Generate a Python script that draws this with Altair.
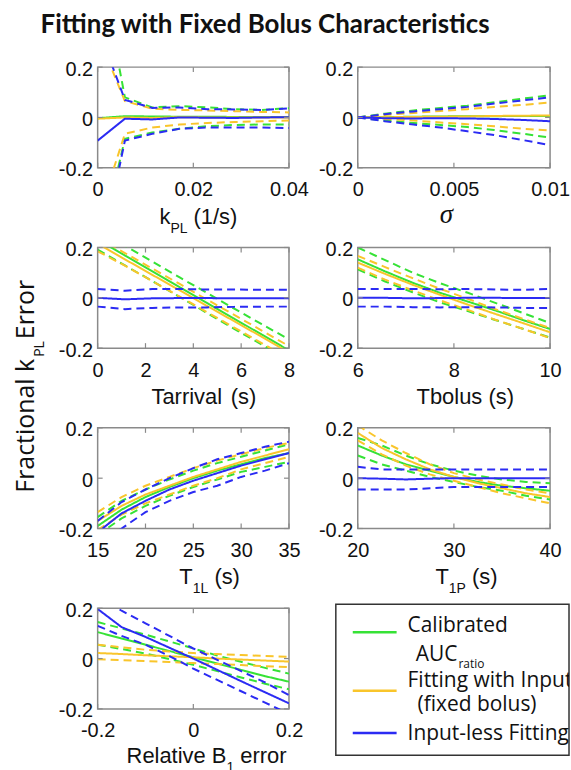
import altair as alt
import pandas as pd

SERIES = ["cal", "fit", "inl"]
SERIES_COLORS = ["#36e236", "#f9c52b", "#2b2bf3"]
LEGEND_LINES = ["Calibrated", "AUC", "ratio", "Fitting with Input", "(fixed bolus)", "Input-less Fitting"]
Y_TICKS = [-0.2, 0, 0.2]

# ---- panel 1: kPL
kpl_x = [0, 0.0057, 0.0114, 0.0171, 0.0229, 0.0286, 0.0343, 0.04]
kpl_cal = [-0.003, 0.005, 0.004, 0.003, 0.003, 0.002, 0.002, 0.002]
kpl_cal_hi = [0.65, 0.08, 0.04, 0.045, 0.04, 0.033, 0.03, 0.037]
kpl_cal_lo = [-0.55, -0.085, -0.06, -0.045, -0.035, -0.03, -0.028, -0.028]
kpl_fit = [-0.005, 0.0, -0.002, 0.001, 0.0, 0.0, 0.0, 0.0]
kpl_fit_hi = [0.33, 0.065, 0.035, 0.03, 0.028, 0.025, 0.022, 0.02]
kpl_fit_lo = [-0.40, -0.065, -0.04, -0.028, -0.022, -0.018, -0.015, -0.012]
kpl_inl = [-0.092, -0.005, -0.008, 0.0, -0.001, -0.002, 0.0, 0.001]
kpl_inl_hi = [0.36, 0.07, 0.038, 0.04, 0.033, 0.032, 0.03, 0.036]
kpl_inl_lo = [-0.61, -0.092, -0.065, -0.045, -0.04, -0.04, -0.04, -0.042]

# ---- panel 2: sigma
sig_x = [0, 0.0014, 0.0029, 0.0043, 0.0057, 0.0071, 0.0086, 0.01]
sig_cal = [0, 0.001, 0.003, 0.004, 0.005, 0.005, 0.006, 0.006]
sig_cal_hi = [0, 0.015, 0.028, 0.038, 0.047, 0.06, 0.075, 0.088]
sig_cal_lo = [0, -0.012, -0.022, -0.03, -0.038, -0.05, -0.065, -0.08]
sig_fit = [0, 0.001, 0.002, 0.003, 0.004, 0.006, 0.007, 0.008]
sig_fit_hi = [0, 0.01, 0.018, 0.026, 0.033, 0.042, 0.05, 0.06]
sig_fit_lo = [0, -0.006, -0.012, -0.02, -0.027, -0.035, -0.045, -0.052]
sig_inl = [0, -0.003, -0.004, -0.003, -0.004, -0.006, -0.01, -0.015]
sig_inl_hi = [0, 0.013, 0.024, 0.033, 0.042, 0.055, 0.068, 0.08]
sig_inl_lo = [0, -0.015, -0.028, -0.04, -0.055, -0.07, -0.09, -0.11]

# ---- panel 3: Tarrival
tar_x = [0, 1.14, 2.29, 3.43, 4.57, 5.71, 6.86, 8]
tar_cal = [0.231, 0.168, 0.105, 0.042, -0.02, -0.083, -0.146, -0.209]
tar_cal_hi = [0.27, 0.207, 0.144, 0.081, 0.02, -0.043, -0.105, -0.165]
tar_cal_lo = [0.192, 0.129, 0.066, 0.003, -0.06, -0.123, -0.186, -0.249]
tar_fit = [0.215, 0.153, 0.091, 0.03, -0.032, -0.093, -0.155, -0.217]
tar_fit_hi = [0.24, 0.178, 0.116, 0.055, -0.007, -0.068, -0.13, -0.192]
tar_fit_lo = [0.185, 0.128, 0.066, 0.005, -0.057, -0.118, -0.18, -0.242]
tar_inl = [0.0, -0.006, -0.002, -0.001, -0.001, -0.002, -0.002, -0.002]
tar_inl_hi = [0.035, 0.028, 0.035, 0.035, 0.033, 0.033, 0.032, 0.032]
tar_inl_lo = [-0.035, -0.045, -0.04, -0.038, -0.038, -0.036, -0.035, -0.035]

# ---- panel 4: Tbolus
tbo_x = [6, 6.57, 7.14, 7.71, 8.29, 8.86, 9.43, 10]
tbo_cal = [0.153, 0.105, 0.06, 0.02, -0.015, -0.05, -0.088, -0.124]
tbo_cal_hi = [0.2, 0.15, 0.1, 0.058, 0.02, -0.02, -0.06, -0.1]
tbo_cal_lo = [0.113, 0.065, 0.022, -0.018, -0.053, -0.088, -0.123, -0.158]
tbo_fit = [0.14, 0.095, 0.052, 0.012, -0.027, -0.064, -0.1, -0.137]
tbo_fit_hi = [0.167, 0.122, 0.078, 0.036, -0.004, -0.045, -0.083, -0.12]
tbo_fit_lo = [0.12, 0.072, 0.03, -0.01, -0.048, -0.087, -0.123, -0.16]
tbo_inl = [0.0, 0.0, -0.002, -0.001, 0.0, 0.0, -0.001, -0.001]
tbo_inl_hi = [0.035, 0.035, 0.035, 0.034, 0.035, 0.033, 0.032, 0.035]
tbo_inl_lo = [-0.035, -0.035, -0.037, -0.038, -0.037, -0.038, -0.04, -0.04]

# ---- panel 5: T1L
t1l_x = [15, 17.5, 20, 22.5, 25, 27.5, 30, 32.5, 35]
t1l_cal = [-0.19, -0.125, -0.075, -0.035, 0.0, 0.03, 0.055, 0.08, 0.1]
t1l_cal_hi = [-0.155, -0.09, -0.045, -0.005, 0.03, 0.06, 0.085, 0.11, 0.135]
t1l_cal_lo = [-0.225, -0.16, -0.11, -0.07, -0.035, -0.005, 0.025, 0.045, 0.065]
t1l_fit = [-0.17, -0.11, -0.065, -0.03, 0.005, 0.035, 0.065, 0.09, 0.115]
t1l_fit_hi = [-0.135, -0.075, -0.03, 0.005, 0.04, 0.07, 0.095, 0.12, 0.14]
t1l_fit_lo = [-0.205, -0.145, -0.1, -0.065, -0.03, 0.0, 0.035, 0.06, 0.085]
t1l_inl = [-0.215, -0.14, -0.09, -0.045, -0.01, 0.02, 0.05, 0.075, 0.1]
t1l_inl_hi = [-0.17, -0.095, -0.045, 0.0, 0.04, 0.075, 0.1, 0.125, 0.145]
t1l_inl_lo = [-0.26, -0.2, -0.135, -0.09, -0.055, -0.03, 0.005, 0.03, 0.06]

# ---- panel 6: T1P
t1p_x = [20, 22.5, 25, 27.5, 30, 32.5, 35, 37.5, 40]
t1p_cal = [0.13, 0.09, 0.055, 0.03, 0.005, -0.015, -0.03, -0.04, -0.05]
t1p_cal_hi = [0.16, 0.13, 0.09, 0.055, 0.03, 0.01, -0.005, -0.015, -0.02]
t1p_cal_lo = [0.09, 0.055, 0.03, 0.005, -0.015, -0.035, -0.05, -0.07, -0.085]
t1p_fit = [0.18, 0.12, 0.075, 0.035, 0.005, -0.02, -0.04, -0.06, -0.075]
t1p_fit_hi = [0.21, 0.15, 0.1, 0.055, 0.02, -0.005, -0.025, -0.045, -0.06]
t1p_fit_lo = [0.15, 0.095, 0.05, 0.015, -0.01, -0.035, -0.06, -0.08, -0.1]
t1p_inl = [0.0, -0.002, -0.005, -0.002, 0.0, 0.0, 0.0, 0.0, 0.0]
t1p_inl_hi = [0.045, 0.035, 0.035, 0.035, 0.035, 0.035, 0.035, 0.035, 0.035]
t1p_inl_lo = [-0.045, -0.045, -0.045, -0.04, -0.035, -0.035, -0.035, -0.035, -0.035]

# ---- panel 7: relative B1 error
b1_x = [-0.2, -0.15, -0.1, -0.05, 0, 0.05, 0.1, 0.15, 0.2]
b1_cal = [0.105, 0.08, 0.055, 0.03, 0.005, -0.02, -0.045, -0.07, -0.092]
b1_cal_hi = [0.145, 0.12, 0.095, 0.068, 0.04, 0.012, -0.013, -0.037, -0.06]
b1_cal_lo = [0.055, 0.038, 0.02, -0.002, -0.025, -0.05, -0.075, -0.1, -0.122]
b1_fit = [0.022, 0.018, 0.013, 0.009, 0.005, 0.0, -0.004, -0.008, -0.012]
b1_fit_hi = [0.055, 0.045, 0.035, 0.028, 0.022, 0.018, 0.014, 0.01, 0.007]
b1_fit_lo = [-0.003, -0.006, -0.01, -0.014, -0.018, -0.022, -0.026, -0.03, -0.034]
b1_inl = [0.197, 0.125, 0.086, 0.043, 0.0, -0.045, -0.09, -0.134, -0.178]
b1_inl_hi = [0.25, 0.19, 0.14, 0.09, 0.04, -0.005, -0.05, -0.095, -0.145]
b1_inl_lo = [0.13, 0.09, 0.055, 0.01, -0.04, -0.085, -0.13, -0.175, -0.22]

FRAME = "#8a8a8a"
H = 101
AXIS_FONT = "Liberation Sans"
HUM_FONT = "Open Sans"

# Arial / Liberation Sans advance widths (per 1000 em)
ADV = {' ': 278, '(': 333, ')': 333, '/': 278, '1': 556, 'B': 667, 'L': 556, 'P': 667,
       'R': 722, 'T': 611, 'a': 556, 'b': 556, 'e': 556, 'i': 222, 'k': 500, 'l': 222,
       'o': 556, 'r': 333, 's': 500, 't': 278, 'u': 556, 'v': 500}


def tw(s, size):
    return sum(ADV.get(c, 556) for c in s) / 1000.0 * size


def one(text):
    return pd.DataFrame({"t": [text]})


def rich(pieces, x0, y0):
    """pieces: (text, size, dy, space_before)"""
    out = []
    x = x0
    for txt, size, dy, sp in pieces:
        x += tw(" ", size) if sp else 0
        out.append(
            alt.Chart(one(txt)).mark_text(align="left", baseline="alphabetic", font=AXIS_FONT,
                                          fontSize=size, color="#111")
            .encode(text="t:N", x=alt.value(x), y=alt.value(y0 + dy))
        )
        x += tw(txt, size)
    return out


def build_df(x, cal, cal_hi, cal_lo, fit, fit_hi, fit_lo, inl, inl_hi, inl_lo):
    rows = []
    for s, m, hi, lo in (("cal", cal, cal_hi, cal_lo), ("fit", fit, fit_hi, fit_lo),
                         ("inl", inl, inl_hi, inl_lo)):
        for kind, vals in (("hi", hi), ("lo", lo), ("mean", m)):
            style = "solid" if kind == "mean" else "dash"
            for xv, yv in zip(x, vals):
                rows.append({"x": xv, "y": yv, "series": s, "kind": kind, "style": style})
    return pd.DataFrame(rows)


LABEL_EXPR = "'' + datum.value"


def panel(df, xdom, xticks, width, extra):
    X = alt.X("x:Q", scale=alt.Scale(domain=xdom, nice=False, zero=False),
              axis=alt.Axis(values=xticks, title=None, labelExpr=LABEL_EXPR))
    Y = alt.Y("y:Q", scale=alt.Scale(domain=[-0.2, 0.2], nice=False, zero=False),
              axis=alt.Axis(values=Y_TICKS, title=None, labelExpr=LABEL_EXPR))
    lines = alt.Chart(df).mark_line(clip=True, strokeWidth=2).encode(
        x=X, y=Y,
        color=alt.Color("series:N", scale=alt.Scale(domain=SERIES, range=SERIES_COLORS), legend=None),
        strokeDash=alt.StrokeDash("style:N", scale=alt.Scale(domain=["solid", "dash"], range=[[1, 0], [8, 5]]),
                                  legend=None),
        detail="kind:N",
    )
    tx = pd.DataFrame({"x": xticks})
    ty = pd.DataFrame({"y": Y_TICKS})
    rule = dict(color=FRAME, strokeWidth=1.2)
    t_top = alt.Chart(tx).mark_rule(**rule).encode(x=X, y=alt.value(0), y2=alt.value(5))
    t_bot = alt.Chart(tx).mark_rule(**rule).encode(x=X, y=alt.value(H - 5), y2=alt.value(H))
    t_lft = alt.Chart(ty).mark_rule(**rule).encode(y=Y, x=alt.value(0), x2=alt.value(5))
    t_rgt = alt.Chart(ty).mark_rule(**rule).encode(y=Y, x=alt.value(width - 5), x2=alt.value(width))
    return alt.layer(lines, t_top, t_bot, t_lft, t_rgt, *extra).properties(width=width, height=H)


TB = 157  # x-title baseline below panel top
MAIN, SUB, SUBDY = 22, 14, 9

title = alt.Chart(one("Fitting with Fixed Bolus Characteristics")).mark_text(
    align="center", baseline="alphabetic", font="Lato", fontWeight="bold", fontSize=26, color="#111"
).encode(text="t:N", x=alt.value(168), y=alt.value(-34))

p1 = panel(build_df(kpl_x, kpl_cal, kpl_cal_hi, kpl_cal_lo, kpl_fit, kpl_fit_hi, kpl_fit_lo,
                    kpl_inl, kpl_inl_hi, kpl_inl_lo), [0, 0.04], [0, 0.02, 0.04], 192,
           [title] + rich([("k", MAIN, 0, False), ("PL", SUB, SUBDY, False), ("(1/s)", MAIN, 0, True)], 62, TB))

sig_title = alt.Chart(one("σ")).mark_text(
    align="center", baseline="alphabetic", font="Liberation Serif", fontStyle="italic", fontSize=27, color="#111"
).encode(text="t:N", x=alt.value(89), y=alt.value(TB - 1))
p2 = panel(build_df(sig_x, sig_cal, sig_cal_hi, sig_cal_lo, sig_fit, sig_fit_hi, sig_fit_lo,
                    sig_inl, sig_inl_hi, sig_inl_lo), [0, 0.01], [0, 0.005, 0.01], 193, [sig_title])

ylab = [
    alt.Chart(one("Fractional k")).mark_text(align="right", baseline="alphabetic", angle=270, font=HUM_FONT,
                                             fontSize=25, color="#111")
    .encode(text="t:N", x=alt.value(-64), y=alt.value(111.7)),
    alt.Chart(one("PL")).mark_text(align="left", baseline="alphabetic", angle=270, font=HUM_FONT,
                                   fontSize=14, color="#111")
    .encode(text="t:N", x=alt.value(-54), y=alt.value(109.7)),
    alt.Chart(one("Error")).mark_text(align="left", baseline="alphabetic", angle=270, font=HUM_FONT,
                                      fontSize=25, color="#111")
    .encode(text="t:N", x=alt.value(-64), y=alt.value(92)),
]
p3 = panel(build_df(tar_x, tar_cal, tar_cal_hi, tar_cal_lo, tar_fit, tar_fit_hi, tar_fit_lo,
                    tar_inl, tar_inl_hi, tar_inl_lo), [0, 8], [0, 2, 4, 6, 8], 192,
           ylab + rich([("Tarrival", MAIN, 0, False), ("(s)", MAIN, 0, True)], 54, TB))

p4 = panel(build_df(tbo_x, tbo_cal, tbo_cal_hi, tbo_cal_lo, tbo_fit, tbo_fit_hi, tbo_fit_lo,
                    tbo_inl, tbo_inl_hi, tbo_inl_lo), [6, 10], [6, 8, 10], 193,
           rich([("Tbolus", MAIN, 0, False), ("(s)", MAIN, 0, True)], 59, TB))

p5 = panel(build_df(t1l_x, t1l_cal, t1l_cal_hi, t1l_cal_lo, t1l_fit, t1l_fit_hi, t1l_fit_lo,
                    t1l_inl, t1l_inl_hi, t1l_inl_lo), [15, 35], [15, 20, 25, 30, 35], 192,
           rich([("T", MAIN, 0, False), ("1L", SUB, SUBDY, False), ("(s)", MAIN, 0, True)], 82, TB))

p6 = panel(build_df(t1p_x, t1p_cal, t1p_cal_hi, t1p_cal_lo, t1p_fit, t1p_fit_hi, t1p_fit_lo,
                    t1p_inl, t1p_inl_hi, t1p_inl_lo), [20, 40], [20, 30, 40], 193,
           rich([("T", MAIN, 0, False), ("1P", SUB, SUBDY, False), ("(s)", MAIN, 0, True)], 78, TB))

p7 = panel(build_df(b1_x, b1_cal, b1_cal_hi, b1_cal_lo, b1_fit, b1_fit_hi, b1_fit_lo,
                    b1_inl, b1_inl_hi, b1_inl_lo), [-0.2, 0.2], [-0.2, 0, 0.2], 192,
           rich([("Relative", MAIN, 0, False), ("B", MAIN, 0, True), ("1", SUB, SUBDY, False),
                 ("error", MAIN, 0, True)], 29, TB - 1.5))

# ---- legend panel (view origin at the right column, row 4 top)
LW = 212
LH = 148
OX = -22  # box starts left of the right column


def ltext(txt, x, y, size=21, align="left"):
    return alt.Chart(one(txt)).mark_text(align=align, baseline="alphabetic", font=HUM_FONT, fontSize=size,
                                         color="#111", clip=True).encode(
        text="t:N", x=alt.value(x), y=alt.value(y))


def lrule(color, y):
    return alt.Chart(one("")).mark_rule(color=color, strokeWidth=2.5).encode(
        x=alt.value(OX + 17), x2=alt.value(OX + 61), y=alt.value(y))


box = alt.Chart(one("")).mark_rect(filled=False, stroke="#333", strokeWidth=1.5).encode(
    x=alt.value(OX), x2=alt.value(LW), y=alt.value(-4), y2=alt.value(147.5))

legend = alt.layer(
    box,
    lrule(SERIES_COLORS[0], 24), lrule(SERIES_COLORS[1], 82.7), lrule(SERIES_COLORS[2], 125.3),
    ltext(LEGEND_LINES[0], OX + 72, 24),
    ltext(LEGEND_LINES[1], OX + 122, 52.7, align="right"),
    ltext(LEGEND_LINES[2], OX + 123, 59.5, size=12),
    ltext(LEGEND_LINES[3], OX + 72, 79),
    ltext(LEGEND_LINES[4], OX + 82, 103),
    ltext(LEGEND_LINES[5], OX + 72, 132),
).properties(width=LW, height=LH, view=alt.ViewBackground(stroke="transparent"))

chart = alt.concat(
    p1, p2, p3, p4, p5, p6, p7, legend,
    columns=2, spacing={"row": 80, "column": 69}, bounds="flush"
).properties(
    padding={"left": 13, "top": 10, "right": 0, "bottom": 0}
).configure_view(
    stroke=FRAME, strokeWidth=1.5
).configure_axis(
    labelFont=AXIS_FONT, labelFontSize=20, labelColor="#111", domain=False, ticks=False, grid=False,
    labelFlush=False, labelOverlap=False
).configure_axisX(labelPadding=12).configure_axisY(labelPadding=5, labelOffset=2)

chart.save("out.html", embed_options={"renderer": "svg", "actions": False})
